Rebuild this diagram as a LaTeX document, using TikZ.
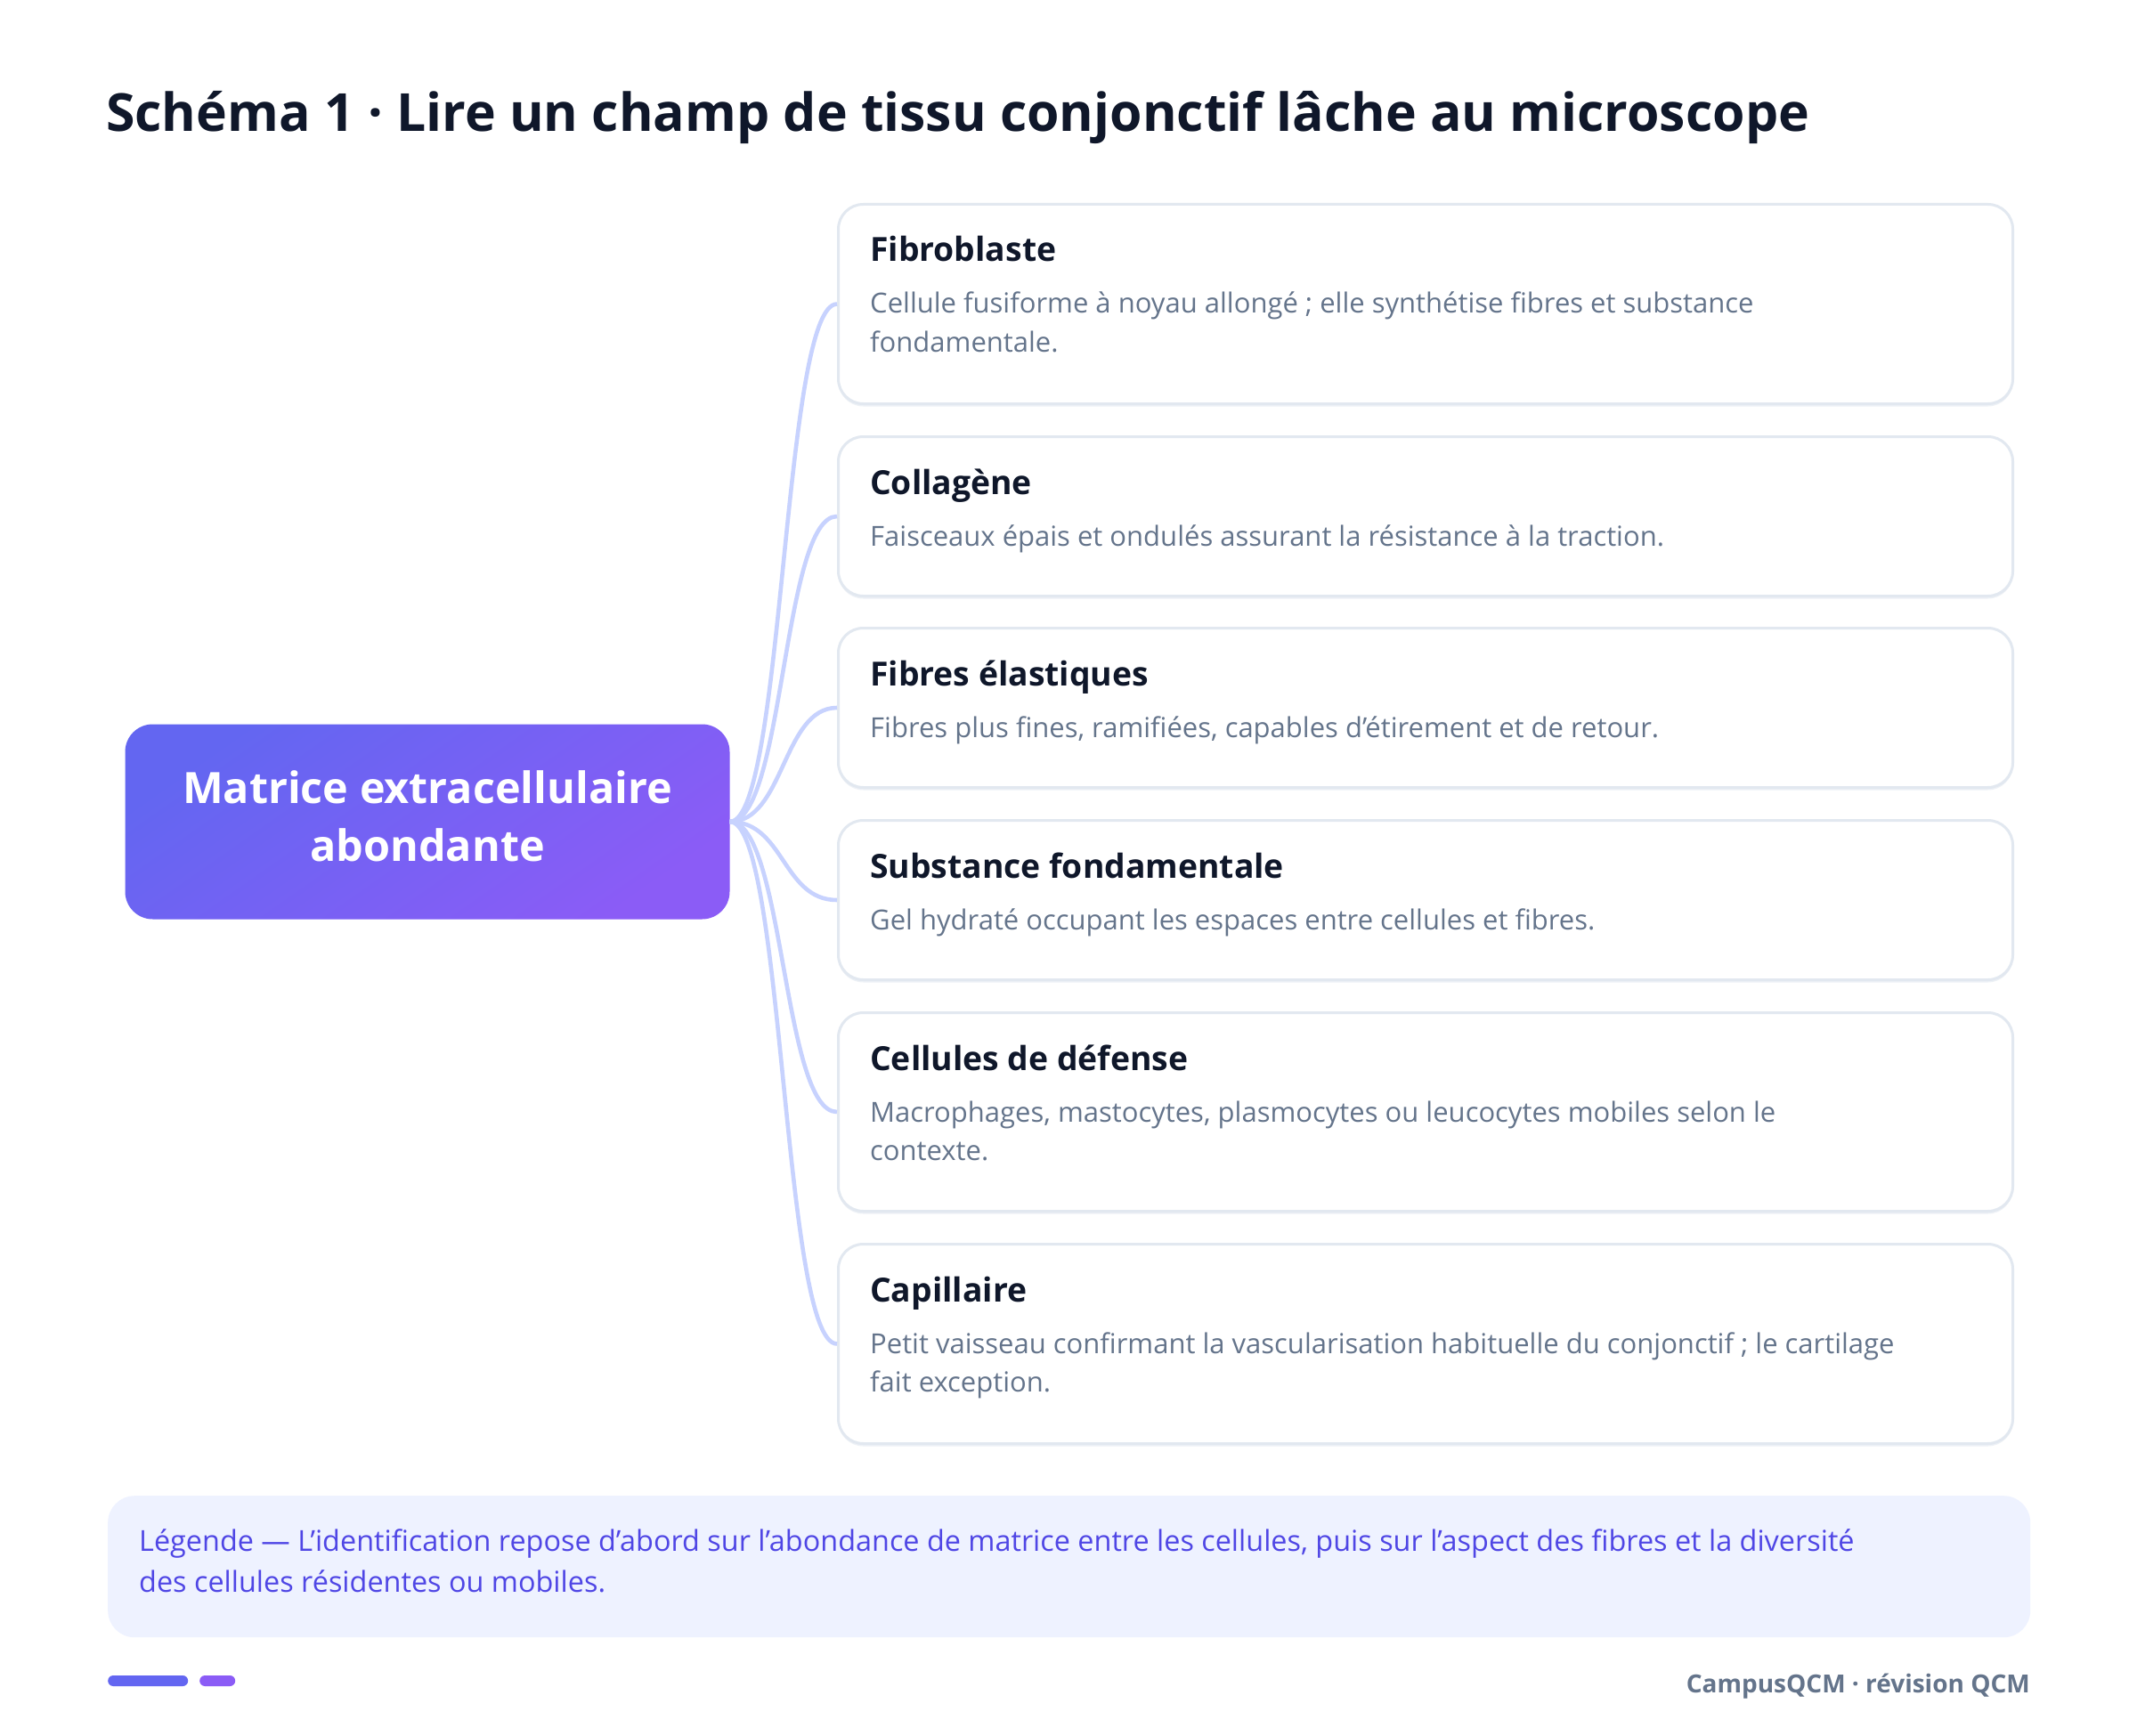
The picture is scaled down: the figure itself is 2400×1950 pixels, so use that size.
\documentclass[tikz,border=0pt]{standalone}
\usepackage{fontspec}
\setmainfont{Open Sans}
\usetikzlibrary{shadows}
\definecolor{ink}{HTML}{0F172A}
\definecolor{slate}{HTML}{64748B}
\definecolor{cardline}{HTML}{E2E8F0}
\definecolor{connc}{HTML}{C7D2FE}
\definecolor{indA}{HTML}{6366F1}
\definecolor{vioB}{HTML}{8B5CF6}
\definecolor{legfill}{HTML}{EEF2FF}
\definecolor{legtext}{HTML}{4F46E5}
\tikzset{
  card/.style={draw=cardline, line width=3pt, fill=white, rounded corners=28pt,
    minimum width=1319pt, anchor=north west, inner sep=0pt,
    drop shadow={shadow xshift=0pt, shadow yshift=-3pt, fill=cardline, opacity=0.6}},
  ctitle/.style={anchor=base west, inner sep=0pt, text=ink, font=\bfseries\fontsize{37.3}{43}\selectfont},
  cdesc/.style={anchor=base west, inner sep=0pt, text=slate, font=\fontsize{31}{43}\selectfont},
  legline/.style={anchor=base west, inner sep=0pt, text=legtext, font=\fontsize{32.4}{46}\selectfont},
  conn/.style={draw=connc, line width=4.6pt},
  hubbox/.style={rounded corners=31pt, minimum width=679pt, minimum height=219pt,
    top color=indA, bottom color=vioB, shading angle=35, inner sep=0pt},
  hubtext/.style={text=white, align=center, inner sep=0pt, font=\bfseries\fontsize{48.5}{65}\selectfont},
  pill/.style={rounded corners=6pt, minimum height=12pt, inner sep=0pt, anchor=west},
}
\begin{document}
\begin{tikzpicture}[x=1pt,y=-1pt]
\fill[white] (0,0) rectangle (2400,1950);
\useasboundingbox (0,0) rectangle (2400,1950);

% title
\node[anchor=base west, inner sep=0pt, text=ink, font=\bfseries\fontsize{58.9}{70}\selectfont] (title) at (119,148)
  {Schéma 1 · Lire un champ de tissu conjonctif lâche au microscope};

% hub
\node[hubbox] (hub) at (480,923) {};
\node[hubtext] (hubt) at (480,917) {Matrice extracellulaire\\abondante};

% cards
\node[card, minimum height=224pt] (c1) at (940,228) {};
\node[card, minimum height=179pt] (c2) at (940,489) {};
\node[card, minimum height=179pt] (c3) at (940,704) {};
\node[card, minimum height=179pt] (c4) at (940,920) {};
\node[card, minimum height=223pt] (c5) at (940,1136) {};
\node[card, minimum height=224pt] (c6) at (940,1396) {};

\node[ctitle] (t1) at (977,294) {Fibroblaste};
\node[cdesc] (d1a) at (977,352) {Cellule fusiforme à noyau allongé ; elle synthétise fibres et substance};
\node[cdesc] (d1b) at (977,395) {fondamentale.};

\node[ctitle] (t2) at (977,555) {Collagène};
\node[cdesc] (d2a) at (977,613) {Faisceaux épais et ondulés assurant la résistance à la traction.};

\node[ctitle] (t3) at (977,770) {Fibres élastiques};
\node[cdesc] (d3a) at (977,828) {Fibres plus fines, ramifiées, capables d’étirement et de retour.};

\node[ctitle] (t4) at (977,986) {Substance fondamentale};
\node[cdesc] (d4a) at (977,1044) {Gel hydraté occupant les espaces entre cellules et fibres.};

\node[ctitle] (t5) at (977,1202) {Cellules de défense};
\node[cdesc] (d5a) at (977,1260) {Macrophages, mastocytes, plasmocytes ou leucocytes mobiles selon le};
\node[cdesc] (d5b) at (977,1303) {contexte.};

\node[ctitle] (t6) at (977,1462) {Capillaire};
\node[cdesc] (d6a) at (977,1520) {Petit vaisseau confirmant la vascularisation habituelle du conjonctif ; le cartilage};
\node[cdesc] (d6b) at (977,1563) {fait exception.};

% connectors
\foreach \c in {c1,c2,c3,c4,c5,c6}{
  \draw[conn] (hub.east) .. controls +(61,0) and +(-61,0) .. (\c.west);
}

% legend
\node[fill=legfill, rounded corners=30pt, minimum width=2159pt, minimum height=159pt,
  anchor=north west, inner sep=0pt] (leg) at (121,1680) {};
\node[legline] (l1) at (156,1742) {Légende — L’identification repose d’abord sur l’abondance de matrice entre les cellules, puis sur l’aspect des fibres et la diversité};
\node[legline] (l2) at (156,1788) {des cellules résidentes ou mobiles.};

% footer
\node[pill, fill=indA, minimum width=90pt] (p1) at (121,1888) {};
\node[pill, fill=vioB, minimum width=40pt] (p2) at (224,1888) {};
\node[anchor=base east, inner sep=0pt, text=slate, font=\bfseries\fontsize{28}{34}\selectfont] (foot) at (2280,1901)
  {CampusQCM · révision QCM};
\end{tikzpicture}
\end{document}
